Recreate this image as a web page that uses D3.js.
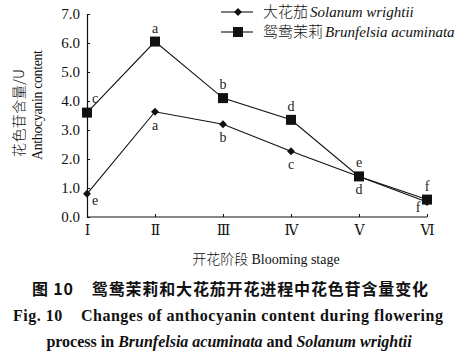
<!DOCTYPE html>
<html>
<head>
<meta charset="utf-8">
<script src="https://cdn.jsdelivr.net/npm/d3@7"></script>
<style>
  body { margin: 0; background: #fff; }
  svg { display: block; font-family: "Liberation Serif", "DejaVu Serif", serif; }
  text { white-space: pre; }
</style>
</head>
<body>
<svg width="465" height="361"></svg>
<script>
const stages = ["Ⅰ", "Ⅱ", "Ⅲ", "Ⅳ", "Ⅴ", "Ⅵ"];
const solanum = [0.8, 3.63, 3.2, 2.27, 1.4, 0.52];
const brunfelsia = [3.6, 6.05, 4.1, 3.35, 1.4, 0.6];
const solanumLetters = ["e", "a", "b", "c", "d", "f"];
const brunfelsiaLetters = ["c", "a", "b", "d", "e", "f"];
const yTicks = [0, 1, 2, 3, 4, 5, 6, 7];

const svg = d3.select("svg");
const ink = "#111";

const x = d3.scalePoint().domain(stages).range([87, 427]);
const y = d3.scaleLinear().domain([0, 7]).range([217, 14]);

// axes (ticks point inward)
svg.append("g")
  .attr("transform", "translate(87,0)")
  .call(d3.axisLeft(y).tickValues(yTicks).tickSize(-3).tickPadding(7).tickFormat(d3.format(".1f")))
  .call(g => g.select(".domain").attr("stroke", ink).attr("stroke-width", 1.2))
  .call(g => g.selectAll("line").attr("stroke", ink))
  .call(g => g.selectAll("text").attr("font-size", 15).attr("fill", ink).attr("font-family", "Liberation Serif"));

svg.append("g")
  .attr("transform", "translate(0,217)")
  .call(d3.axisBottom(x).tickSize(-3).tickPadding(8))
  .call(g => g.select(".domain").attr("stroke", ink).attr("stroke-width", 1.2).attr("d", "M87,0H427"))
  .call(g => g.selectAll("line").attr("stroke", ink))
  .call(g => g.selectAll("text").attr("font-size", 14).attr("fill", ink).attr("font-family", "DejaVu Serif"));

// lines
const line = d3.line().x((d, i) => x(stages[i])).y(d => y(d));

svg.append("path").datum(brunfelsia)
  .attr("d", line).attr("fill", "none").attr("stroke", ink).attr("stroke-width", 1.1);
svg.append("path").datum(solanum)
  .attr("d", line).attr("fill", "none").attr("stroke", ink).attr("stroke-width", 1.1);

// markers
svg.selectAll(".sq").data(brunfelsia).join("rect")
  .attr("x", (d, i) => x(stages[i]) - 5).attr("y", d => y(d) - 5)
  .attr("width", 10).attr("height", 10).attr("fill", ink);

const diamond = d3.symbol().type(d3.symbolDiamond2).size(40);
svg.selectAll(".dm").data(solanum).join("path")
  .attr("d", diamond)
  .attr("transform", (d, i) => `translate(${x(stages[i])},${y(d)})`)
  .attr("fill", ink);

// significance letters
const letterColor = "#222";
svg.selectAll(".lb").data(brunfelsia).join("text")
  .attr("x", (d, i) => x(stages[i]) + (i === 0 ? 8 : 0))
  .attr("y", (d, i) => y(d) - (i === 0 ? 10 : 9))
  .attr("text-anchor", "middle").attr("font-size", 14).attr("fill", letterColor)
  .text((d, i) => brunfelsiaLetters[i]);

svg.selectAll(".ls").data(solanum).join("text")
  .attr("x", (d, i) => x(stages[i]) + (i === 0 ? 8 : i === 5 ? -9 : 0))
  .attr("y", (d, i) => y(d) + (i === 0 ? 11 : i === 5 ? 10 : 18))
  .attr("text-anchor", "middle").attr("font-size", 14).attr("fill", letterColor)
  .text((d, i) => solanumLetters[i]);

// y-axis title
const yt = svg.append("g").attr("transform", "rotate(-90)");
yt.append("text").attr("x", -157).attr("y", 24).attr("text-anchor", "start")
  .attr("font-size", 14).attr("fill", ink).attr("font-family", "Noto Sans CJK SC")
  .attr("font-weight", 300).attr("textLength", 88)
  .text("花色苷含量/U");
yt.append("text").attr("x", -160).attr("y", 42).attr("text-anchor", "start")
  .attr("font-size", 14).attr("fill", ink).attr("textLength", 110)
  .text("Anthocyanin content");

// legend
const legend = [
  { name: "大花茄", latin: "Solanum wrightii", type: "diamond" },
  { name: "鸳鸯茉莉", latin: "Brunfelsia acuminata", type: "square" }
];
const lg = svg.selectAll(".lg").data(legend).join("g")
  .attr("transform", (d, i) => `translate(221,${12 + i * 20})`);
lg.append("line").attr("x1", 0).attr("x2", 32).attr("stroke", ink).attr("stroke-width", 1.1);
lg.filter(d => d.type === "square").append("rect")
  .attr("x", 12).attr("y", -5).attr("width", 10).attr("height", 10).attr("fill", ink);
lg.filter(d => d.type === "diamond").append("path")
  .attr("d", diamond).attr("transform", "translate(17,0)").attr("fill", ink);
const lt = lg.append("text").attr("x", 42).attr("y", 5).attr("font-size", 15).attr("fill", ink);
lt.append("tspan").attr("font-family", "Noto Sans CJK SC").attr("font-weight", 300).text(d => d.name);
lt.append("tspan").attr("font-style", "italic").attr("dx", 2).text(d => d.latin);

// x-axis title
svg.append("text").attr("x", 266).attr("y", 264).attr("text-anchor", "middle")
  .attr("font-size", 14).attr("fill", ink)
  .call(t => t.append("tspan").attr("font-family", "Noto Sans CJK SC").attr("font-weight", 300).text("开花阶段 "))
  .call(t => t.append("tspan").text("Blooming stage"));

// caption
svg.append("text").attr("x", 230).attr("y", 295).attr("text-anchor", "middle")
  .attr("font-size", 16).attr("font-weight", "bold").attr("fill", ink)
  .attr("font-family", "Noto Sans CJK SC").attr("textLength", 396)
  .text("图 10    鸳鸯茉莉和大花茄开花进程中花色苷含量变化");

svg.append("text").attr("x", 228).attr("y", 321).attr("text-anchor", "middle")
  .attr("font-size", 16).attr("font-weight", "bold").attr("fill", ink)
  .attr("textLength", 430)
  .text("Fig. 10    Changes of anthocyanin content during flowering");

const cap3 = svg.append("text").attr("x", 229).attr("y", 347).attr("text-anchor", "middle")
  .attr("font-size", 16).attr("font-weight", "bold").attr("fill", ink);
cap3.append("tspan").text("process in ");
cap3.append("tspan").attr("font-style", "italic").text("Brunfelsia acuminata");
cap3.append("tspan").text(" and ");
cap3.append("tspan").attr("font-style", "italic").text("Solanum wrightii");
</script>
</body>
</html>
